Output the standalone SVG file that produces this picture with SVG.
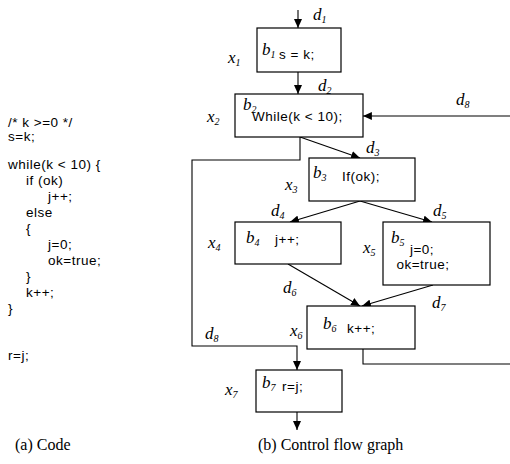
<svg xmlns="http://www.w3.org/2000/svg" width="510" height="464" viewBox="0 0 510 464">
<defs>
<marker id="ah" markerUnits="userSpaceOnUse" markerWidth="9" markerHeight="8" viewBox="0 0 10 9" refX="10" refY="4.5" orient="auto">
<path d="M0,0 L10,4.5 L0,9 z" fill="#000"/>
</marker>
<style>
.code{font-family:"Liberation Sans",Arial,sans-serif;font-size:13.5px;letter-spacing:0.5px;fill:#000}
.st{font-family:"Liberation Sans",Arial,sans-serif;font-size:13.5px;letter-spacing:0.5px;fill:#000}
.lab{font-family:"Liberation Serif","Times New Roman",serif;font-style:italic;font-size:17px;fill:#000}
.sub{font-size:10px}
.cap{font-family:"Liberation Serif","Times New Roman",serif;font-size:16px;fill:#000}
.box{fill:#fff;stroke:#000;stroke-width:1.2}
.e{fill:none;stroke:#000;stroke-width:1.1}
</style>
</defs>
<rect width="510" height="464" fill="#fff"/>
<g id="code">
<text class="code" x="8" y="127">/* k &gt;=0 */</text>
<text class="code" x="8" y="141">s=k;</text>
<text class="code" x="8" y="169">while(k &lt; 10) {</text>
<text class="code" x="26" y="185">if (ok)</text>
<text class="code" x="48" y="201">j++;</text>
<text class="code" x="26" y="217">else</text>
<text class="code" x="26" y="233">{</text>
<text class="code" x="48" y="249">j=0;</text>
<text class="code" x="48" y="265">ok=true;</text>
<text class="code" x="26" y="281">}</text>
<text class="code" x="26" y="297">k++;</text>
<text class="code" x="8" y="313">}</text>
<text class="code" x="8" y="360">r=j;</text>
</g>
<g id="connectors">
<path class="e" d="M298,10 V28" marker-end="url(#ah)"/>
<path class="e" d="M298,72 V94" marker-end="url(#ah)"/>
<path class="e" d="M300,137 L360,158" marker-end="url(#ah)"/>
<path class="e" d="M360,201 L290,222" marker-end="url(#ah)"/>
<path class="e" d="M360,201 L432,222" marker-end="url(#ah)"/>
<path class="e" d="M288,264 L360,306" marker-end="url(#ah)"/>
<path class="e" d="M433,285 L362,306" marker-end="url(#ah)"/>
<path class="e" d="M363,349 V364 H511 V116 H363" marker-end="url(#ah)"/>
<path class="e" d="M300,137 V160 H192 V346 H297 V370" marker-end="url(#ah)"/>
<path class="e" d="M297,412 V430" marker-end="url(#ah)"/>
<text class="lab" x="313" y="20">d<tspan class="sub" dy="3">1</tspan></text>
<text class="lab" x="318" y="91">d<tspan class="sub" dy="3">2</tspan></text>
<text class="lab" x="366" y="153">d<tspan class="sub" dy="3">3</tspan></text>
<text class="lab" x="271" y="216">d<tspan class="sub" dy="3">4</tspan></text>
<text class="lab" x="433" y="216">d<tspan class="sub" dy="3">5</tspan></text>
<text class="lab" x="283" y="293">d<tspan class="sub" dy="3">6</tspan></text>
<text class="lab" x="432" y="308">d<tspan class="sub" dy="3">7</tspan></text>
<text class="lab" x="456" y="105">d<tspan class="sub" dy="3">8</tspan></text>
<text class="lab" x="205" y="339">d<tspan class="sub" dy="3">8</tspan></text>
</g>
<g id="b1">
<rect class="box" x="257" y="28" width="84" height="44"/>
<text class="lab" x="262" y="55">b<tspan class="sub" dy="3">1</tspan></text>
<text class="st" x="279" y="59">s = k;</text>
<text class="lab" x="228" y="63">x<tspan class="sub" dy="3">1</tspan></text>
</g>
<g id="b2">
<rect class="box" x="235" y="94" width="128" height="43"/>
<text class="lab" x="243" y="110">b<tspan class="sub" dy="3">2</tspan></text>
<text class="st" x="252" y="121">While(k &lt; 10);</text>
<text class="lab" x="207" y="122">x<tspan class="sub" dy="3">2</tspan></text>
</g>
<g id="b3">
<rect class="box" x="309" y="158" width="106" height="43"/>
<text class="lab" x="313" y="178">b<tspan class="sub" dy="3">3</tspan></text>
<text class="st" x="342" y="181">If(ok);</text>
<text class="lab" x="285" y="190">x<tspan class="sub" dy="3">3</tspan></text>
</g>
<g id="b4">
<rect class="box" x="235" y="222" width="106" height="42"/>
<text class="lab" x="246" y="243">b<tspan class="sub" dy="3">4</tspan></text>
<text class="st" x="275" y="244">j++;</text>
<text class="lab" x="208" y="248">x<tspan class="sub" dy="3">4</tspan></text>
</g>
<g id="b5">
<rect class="box" x="383" y="222" width="107" height="63"/>
<text class="lab" x="391" y="243">b<tspan class="sub" dy="3">5</tspan></text>
<text class="st" x="422" y="254" text-anchor="middle">j=0;</text>
<text class="st" x="423" y="269" text-anchor="middle">ok=true;</text>
<text class="lab" x="363" y="253">x<tspan class="sub" dy="3">5</tspan></text>
</g>
<g id="b6">
<rect class="box" x="307" y="306" width="108" height="43"/>
<text class="lab" x="323" y="329">b<tspan class="sub" dy="3">6</tspan></text>
<text class="st" x="347" y="333">k++;</text>
<text class="lab" x="290" y="336">x<tspan class="sub" dy="3">6</tspan></text>
</g>
<g id="b7">
<rect class="box" x="256" y="370" width="86" height="42"/>
<text class="lab" x="262" y="388">b<tspan class="sub" dy="3">7</tspan></text>
<text class="st" x="282" y="391">r=j;</text>
<text class="lab" x="225" y="395">x<tspan class="sub" dy="3">7</tspan></text>
</g>
<g id="captions">
<text class="cap" x="15" y="450">(a) Code</text>
<text class="cap" x="258" y="450">(b) Control flow graph</text>
</g>
</svg>
